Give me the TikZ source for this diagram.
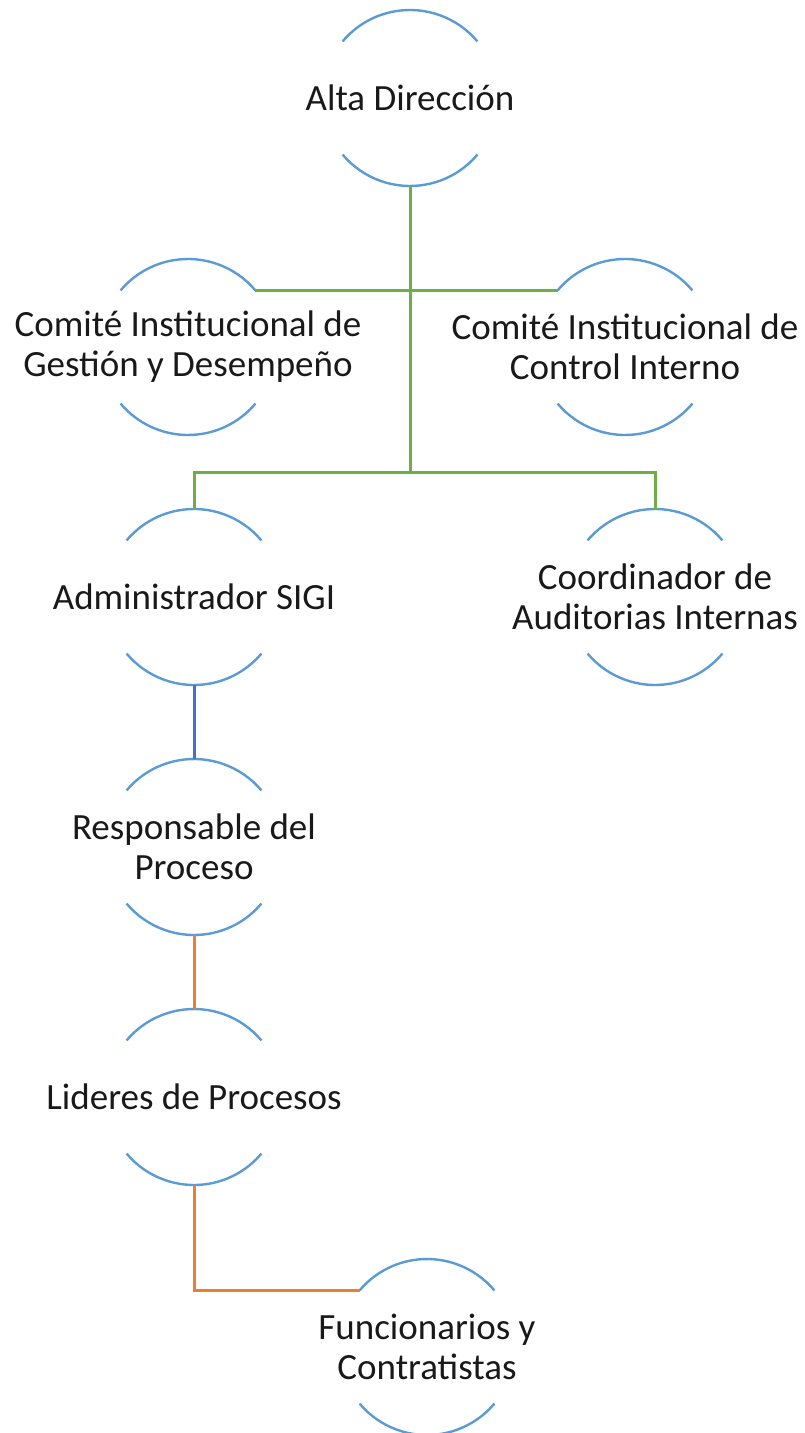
\documentclass[tikz,border=0pt]{standalone}
\usepackage{fontspec}
\setmainfont{Carlito}
\definecolor{arcblue}{HTML}{5B9BD5}
\definecolor{lgreen}{HTML}{70AD47}
\definecolor{lorange}{HTML}{ED7D31}
\definecolor{dblue}{HTML}{4472C4}
\begin{document}
\begin{tikzpicture}[x=0.5pt,y=-0.5pt,
  ring/.style={circle,minimum size=88pt,inner sep=0pt,outer sep=0pt,draw=none},
  lbl/.style={align=center,inner sep=0pt,font=\fontsize{18.5pt}{20pt}\selectfont,text=black!90},
  arcst/.style={draw=arcblue,line width=1.2pt},
  gline/.style={draw=lgreen,line width=1.5pt},
  oline/.style={draw=lorange,line width=1.5pt},
  bline/.style={draw=dblue,line width=1.5pt}]
\useasboundingbox (0,0) rectangle (804,1433);
% nodes
\node[ring] (alta) at (410,98) {};
\node[ring] (cg) at (188,347) {};
\node[ring] (ci) at (625,347) {};
\node[ring] (adm) at (194,597) {};
\node[ring] (coo) at (655,597) {};
\node[ring] (resp) at (194,847) {};
\node[ring] (lid) at (194,1097) {};
\node[ring] (fun) at (427,1347) {};
% labels
\node[lbl] (altat) at (alta) {Alta Dirección};
\node[lbl] (cgt) at (cg) {Comité Institucional de\\Gestión y Desempeño};
\node[lbl] (cit) at (ci) {Comité Institucional de\\Control Interno};
\node[lbl] (admt) at (adm) {Administrador SIGI};
\node[lbl] (coot) at (coo) {Coordinador de\\Auditorias Internas};
\node[lbl] (respt) at (resp) {Responsable del\\Proceso};
\node[lbl] (lidt) at (lid) {Lideres de Procesos};
\node[lbl] (funt) at (fun) {Funcionarios y\\Contratistas};
% arcs
\foreach \n in {alta,cg,ci,adm,coo,resp,lid,fun}{
  \draw[arcst] (\n.40) arc[start angle=40,end angle=140,radius=44pt];
  \draw[arcst] (\n.220) arc[start angle=220,end angle=320,radius=44pt];
}
% connectors
\coordinate (j1) at (410,472);
\draw[gline] (alta.south) -- (j1);
\draw[gline] (cg.40) -- (ci.140);
\draw[gline] (adm.north) |- (j1) -| (coo.north);
\draw[bline] (adm.south) -- (resp.north);
\draw[oline] (resp.south) -- (lid.north);
\draw[oline] (lid.south) |- (fun.140);
\end{tikzpicture}
\end{document}
